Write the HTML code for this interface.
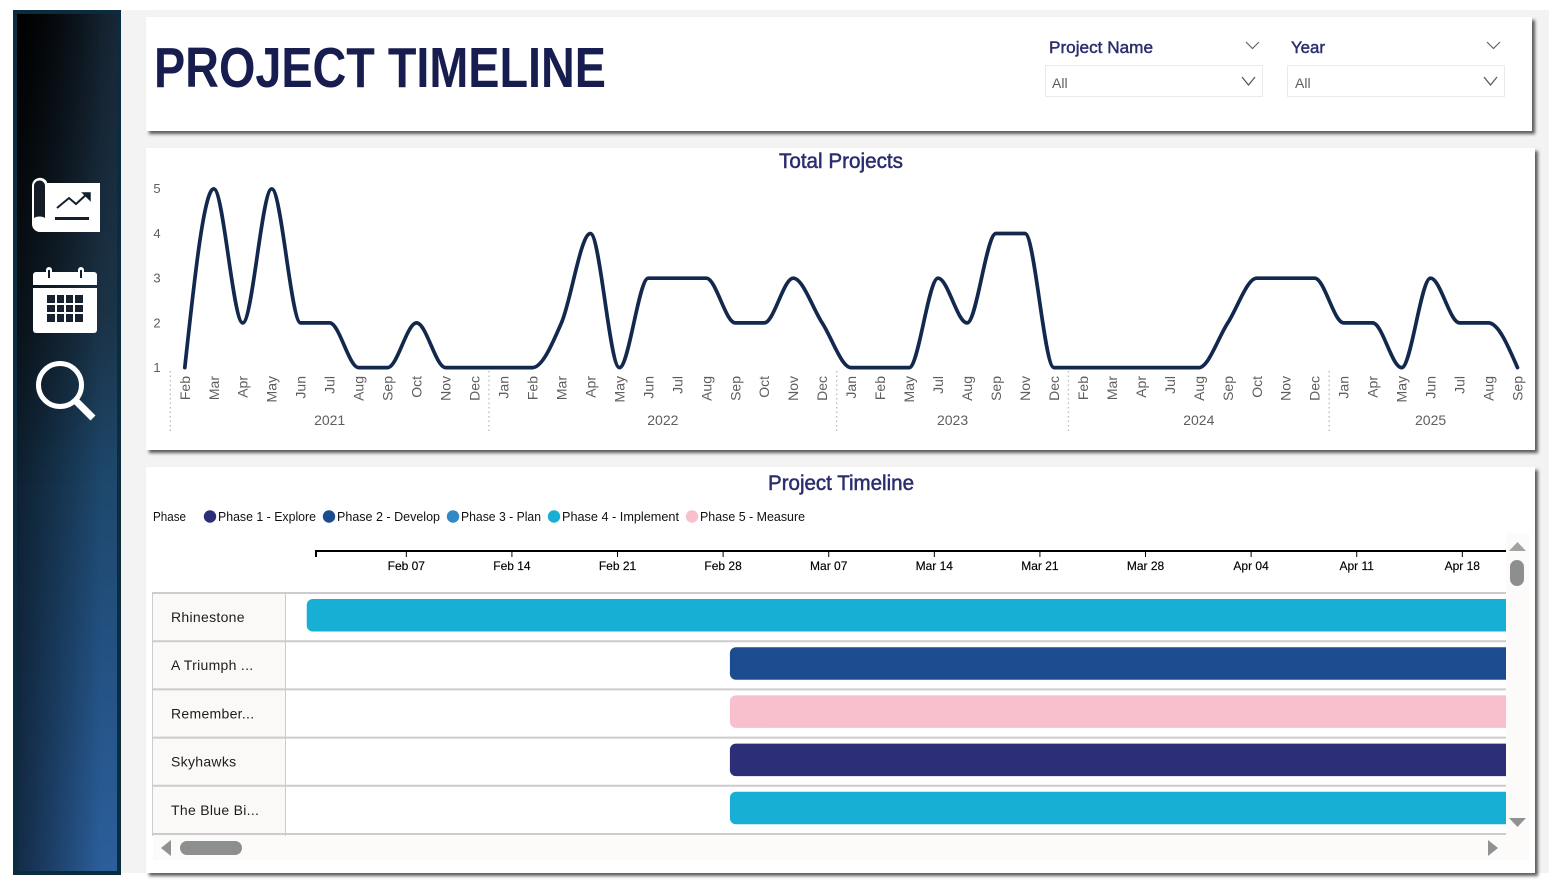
<!DOCTYPE html>
<html lang="en">
<head>
<meta charset="utf-8">
<title>Project Timeline</title>
<style>
html,body{margin:0;padding:0;background:#fff;width:1549px;height:886px;overflow:hidden}
#canvas{position:absolute;left:0;top:0;width:1549px;height:886px;overflow:hidden;font-family:"Liberation Sans",sans-serif}
#bg{position:absolute;left:121px;top:10px;width:1428px;height:863px;background:#f3f3f3}
#sidebar{position:absolute;left:13px;top:10px;width:100px;height:857px;border:4px solid #0b2b3e;
background:linear-gradient(90deg,rgba(0,0,0,.55) 0%,rgba(0,0,0,.3) 40%,rgba(0,0,0,0) 85%),linear-gradient(180deg,#172736 0%,#1c3448 35%,#1d4669 52%,#22507f 72%,#2b5f9c 100%)}
#sidebar-tint{position:absolute;left:0;top:0;width:100px;height:857px;background:linear-gradient(90deg,#000 0%,rgba(0,0,0,.55) 45%,rgba(0,0,0,0) 100%);-webkit-mask-image:linear-gradient(180deg,#000 0%,rgba(0,0,0,.35) 30%,rgba(0,0,0,0) 55%);mask-image:linear-gradient(180deg,#000 0%,rgba(0,0,0,.35) 30%,rgba(0,0,0,0) 55%)}
.panel{position:absolute;background:#fff;box-shadow:3px 3px 3px rgba(40,40,40,.75)}
svg#page{position:absolute;left:0;top:0}
</style>
</head>
<body>
<div id="canvas">
  <div id="bg"></div>
  <div id="sidebar"><div id="sidebar-tint"></div></div>
  <div class="panel" style="left:146px;top:17px;width:1386px;height:114px"></div>
  <div class="panel" style="left:146px;top:148px;width:1389px;height:302px"></div>
  <div class="panel" style="left:146px;top:467px;width:1389px;height:406px"></div>

  <svg id="page" width="1549" height="886" viewBox="0 0 1549 886" xmlns="http://www.w3.org/2000/svg">
    <defs><clipPath id="ganttClip"><rect x="286" y="590" width="1220" height="246"/></clipPath></defs>

    <!-- sidebar icons -->
    <g>
      <path d="M32 185a8 8 0 0 1 15-3v1h53v49H40a8 8 0 0 1-8-8z" fill="#fff"/>
      <path d="M34 218V186a5.500 5.500 0 0 1 11 0v32a7 4 0 0 0-11 0z" fill="#141c26"/>
      <path d="M57 208l12-10 7 6 12-11" fill="none" stroke="#141f2d" stroke-width="2"/>
      <path d="M83 193h7v7z" fill="#141f2d" stroke="#141f2d" stroke-width="1.500"/>
      <rect x="55" y="217" width="34" height="3" fill="#141f2d"/>
    </g>
    <g>
      <path d="M33 275a3 3 0 0 1 3-3h58a3 3 0 0 1 3 3v10H33z" fill="#fff"/>
      <path d="M33 288h64v42a3 3 0 0 1-3 3H36a3 3 0 0 1-3-3z" fill="#fff"/>
      <rect x="46" y="267" width="6" height="11" rx="3" fill="#fff"/>
      <rect x="78" y="267" width="6" height="11" rx="3" fill="#fff"/>
      <rect x="48" y="270" width="2" height="8" fill="#141f2d"/>
      <rect x="80" y="270" width="2" height="8" fill="#141f2d"/>
      <g fill="#18222f" id="calendarGrid">
        <rect x="47" y="295" width="8" height="8"/><rect x="57" y="295" width="7" height="8"/><rect x="66" y="295" width="7" height="8"/><rect x="75" y="295" width="8" height="8"/>
        <rect x="47" y="305" width="8" height="7"/><rect x="57" y="305" width="7" height="7"/><rect x="66" y="305" width="7" height="7"/><rect x="75" y="305" width="8" height="7"/>
        <rect x="47" y="314" width="8" height="8"/><rect x="57" y="314" width="7" height="8"/><rect x="66" y="314" width="7" height="8"/><rect x="75" y="314" width="8" height="8"/>
      </g>
    </g>
    <g>
      <circle cx="60" cy="385" r="21.500" fill="none" stroke="#fff" stroke-width="5"/>
      <path d="M76 401l17 17" stroke="#fff" stroke-width="7" fill="none"/>
    </g>

    <!-- header -->
    <text x="154" y="87" font-family="'Liberation Sans',sans-serif" font-weight="700" font-size="56.500" fill="#181d50" textLength="452" lengthAdjust="spacingAndGlyphs">PROJECT TIMELINE</text>

    <text x="1049" y="53" font-family="'Liberation Sans',sans-serif" font-size="17" fill="#2b2d6e" stroke="#2b2d6e" stroke-width="0.450" textLength="104" lengthAdjust="spacingAndGlyphs">Project Name</text>
    <path d="M1246 42l6.500 6.500 6.500-6.500" fill="none" stroke="#666" stroke-width="1.200"/>
    <rect x="1045.500" y="65.500" width="217" height="31" fill="#fff" stroke="#eaeaea"/>
    <text x="1052" y="88" font-family="'Liberation Sans',sans-serif" font-size="14" fill="#605e5c">All</text>
    <path d="M1242 77l6.500 8 6.500-8" fill="none" stroke="#555" stroke-width="1.200"/>

    <text x="1291" y="53" font-family="'Liberation Sans',sans-serif" font-size="17" fill="#2b2d6e" stroke="#2b2d6e" stroke-width="0.450" textLength="34" lengthAdjust="spacingAndGlyphs">Year</text>
    <path d="M1487 42l6.500 6.500 6.500-6.500" fill="none" stroke="#666" stroke-width="1.200"/>
    <rect x="1287.500" y="65.500" width="217" height="31" fill="#fff" stroke="#eaeaea"/>
    <text x="1295" y="88" font-family="'Liberation Sans',sans-serif" font-size="14" fill="#605e5c">All</text>
    <path d="M1484 77l6.500 8 6.500-8" fill="none" stroke="#555" stroke-width="1.200"/>

    <!-- line chart -->
    <text x="779" y="168" font-family="'Liberation Sans',sans-serif" font-size="21" fill="#2b2d6e" stroke="#2b2d6e" stroke-width="0.500" textLength="124" lengthAdjust="spacingAndGlyphs">Total Projects</text>
    <g id="lineChart"></g>

    <!-- gantt -->
    <text x="768" y="490" font-family="'Liberation Sans',sans-serif" font-size="21" fill="#2b2d6e" stroke="#2b2d6e" stroke-width="0.500" textLength="146" lengthAdjust="spacingAndGlyphs">Project Timeline</text>
    <g id="legend"></g>
    <g id="gantt"></g>

    <!-- scrollbars -->
    <rect x="1506" y="533" width="23" height="327" fill="#fcfbfa"/>
    <rect x="153" y="836" width="1376" height="24" fill="#fcfbfa"/>
    <path d="M1509 551l8.500-9 8.500 9z" fill="#a0a3a2"/>
    <path d="M1509 818l8.500 9 8.500-9z" fill="#8f9291"/>
    <rect x="1510" y="560" width="14" height="26" rx="7" fill="#8c8f8e"/>
    <path d="M171 840v16l-10-8z" fill="#8f9291"/>
    <path d="M1488 840v16l10-8z" fill="#8f9291"/>
    <rect x="180" y="841" width="62" height="14" rx="7" fill="#8c8f8e"/>
  </svg>
</div>

<script>
/* ---------- Total Projects chart data ---------- */
const monthLabels = ["Feb","Mar","Apr","May","Jun","Jul","Aug","Sep","Oct","Nov","Dec",
  "Jan","Feb","Mar","Apr","May","Jun","Jul","Aug","Sep","Oct","Nov","Dec",
  "Jan","Feb","May","Jul","Aug","Sep","Nov","Dec",
  "Feb","Mar","Apr","Jul","Aug","Sep","Oct","Nov","Dec",
  "Jan","Apr","May","Jun","Jul","Aug","Sep"];
const totalProjects = [1,5,2,5,2,2,1,1,2,1,1,
  1,1,2,4,1,3,3,3,2,2,3,2,
  1,1,1,3,2,4,4,1,
  1,1,1,1,1,2,3,3,3,
  2,2,1,3,2,2,1];
const yearLabels = ["2021","2022","2023","2024","2025"];
const yearMonthCounts = [11,12,8,9,7];
const yTickValues = [1,2,3,4,5];

/* ---------- Gantt chart data ---------- */
const phaseNames = ["Phase 1 - Explore","Phase 2 - Develop","Phase 3 - Plan","Phase 4 - Implement","Phase 5 - Measure"];
const projectNames = ["Rhinestone","A Triumph ...","Remember...","Skyhawks","The Blue Bi..."];
const projectPhaseIndex = [3,1,4,0,3];
const projectStartDay = [-0.6,27.45,27.45,27.45,27.45];
const projectEndDay = [120,120,120,120,120];
const dateTickLabels = ["Feb 07","Feb 14","Feb 21","Feb 28","Mar 07","Mar 14","Mar 21","Mar 28","Apr 04","Apr 11","Apr 18"];
const dateTickDays = [6,13,20,27,34,41,48,55,62,69,76];

/* ---------- helpers ---------- */
const NS = "http://www.w3.org/2000/svg";
const FONT = "'Liberation Sans',sans-serif";
function make(parent, tag, attrs, txt){
  const el = document.createElementNS(NS, tag);
  for (const k in attrs) el.setAttribute(k, attrs[k]);
  if (txt !== undefined) el.textContent = txt;
  parent.appendChild(el);
  return el;
}

/* ---------- line chart ---------- */
const lineChart = document.getElementById("lineChart");
const xStep = (1517.5 - 184.8) / (monthLabels.length - 1);
function xScale(i){ return 184.8 + i * xStep; }
function yScale(v){ return 367.6 - (v - 1) * (367.6 - 188.8) / 4; }

yTickValues.forEach(function(v){
  const t = make(lineChart, "text", {x:157, y:yScale(v)+4.4, "text-anchor":"middle", "font-family":FONT, "font-size":13, fill:"#605e5c"}, String(v));
  
  
});

monthLabels.forEach(function(m, i){
  const x = xScale(i);
  const t = make(lineChart, "text", {x:0, y:0, transform:"translate("+(x+5)+",376) rotate(-90)", "text-anchor":"end", "font-family":FONT, "font-size":14, fill:"#605e5c"}, m);
  
  
});

let yearStartIndex = 0;
yearLabels.forEach(function(y, k){
  const left = xScale(yearStartIndex - 0.5);
  const last = yearStartIndex + yearMonthCounts[k] - 1;
  const right = xScale(last + 0.5);
  const sep = make(lineChart, "line", {x1:left, x2:left, y1:371, y2:433, stroke:"#bdbdbd", "stroke-width":1.4, "stroke-dasharray":"1.500 3"});
  
  
  const t = make(lineChart, "text", {x:(left+right)/2, y:425, "text-anchor":"middle", "font-family":FONT, "font-size":14, fill:"#605e5c"}, y);
  
  
  yearStartIndex = last + 1;
});

function monotonePath(pts){
  const n = pts.length;
  const d = [], m = [];
  for (let i = 0; i < n - 1; i++) d.push((pts[i+1][1] - pts[i][1]) / (pts[i+1][0] - pts[i][0]));
  for (let i = 1; i < n - 1; i++){
    const h0 = pts[i][0] - pts[i-1][0], h1 = pts[i+1][0] - pts[i][0];
    const p = (d[i-1]*h1 + d[i]*h0) / (h0 + h1);
    const s0 = d[i-1], s1 = d[i];
    m[i] = ((s0 < 0 ? -1 : 1) + (s1 < 0 ? -1 : 1)) * Math.min(Math.abs(s0), Math.abs(s1), 0.5*Math.abs(p)) || 0;
  }
  m[0] = (3*d[0] - m[1]) / 2;
  m[n-1] = (3*d[n-2] - m[n-2]) / 2;
  let s = "M" + pts[0][0] + " " + pts[0][1];
  for (let i = 0; i < n - 1; i++){
    const h = (pts[i+1][0] - pts[i][0]) / 3;
    s += "C" + (pts[i][0]+h) + " " + (pts[i][1]+h*m[i]) + " " + (pts[i+1][0]-h) + " " + (pts[i+1][1]-h*m[i+1]) + " " + pts[i+1][0] + " " + pts[i+1][1];
  }
  return s;
}
const linePoints = totalProjects.map(function(v, i){ return [xScale(i), yScale(v)]; });
const seriesLine = make(lineChart, "path", {d:monotonePath(linePoints), fill:"none", stroke:"#12284c", "stroke-width":3.7, "stroke-linecap":"round", "stroke-linejoin":"round"});



/* ---------- legend ---------- */
const phaseColors = ["#2d2e78","#1c4b8f","#3188c4","#17b0d4","#f8bfcd"];
const legend = document.getElementById("legend");
const legendTitle = make(legend, "text", {x:153, y:521, "font-family":FONT, "font-size":12.5, fill:"#111", textLength:33, lengthAdjust:"spacingAndGlyphs"}, "Phase");


const legendTextWidths = [98,103,80,117,105];
let legendX = 204;
phaseNames.forEach(function(name, i){
  const dot = make(legend, "circle", {cx:legendX+6, cy:516.5, r:6.2, fill:phaseColors[i]});
  
  
  const label = make(legend, "text", {x:legendX+14, y:521, "font-family":FONT, "font-size":12.5, fill:"#111", textLength:legendTextWidths[i], lengthAdjust:"spacingAndGlyphs"}, name);
  
  
  legendX += 14 + legendTextWidths[i] + 7;
});

/* ---------- gantt ---------- */
const gantt = document.getElementById("gantt");
const dayWidth = 105.6 / 7;
function dayScale(d){ return 315.8 + d * dayWidth; }
const rowTop = 593, rowHeight = 48.2;
function rowY(i){ return rowTop + i * rowHeight; }

const axisLine = make(gantt, "line", {x1:315, x2:1506, y1:551, y2:551, stroke:"#000", "stroke-width":2});


const axisStart = make(gantt, "line", {x1:316, x2:316, y1:550, y2:557, stroke:"#000", "stroke-width":2});



dateTickLabels.forEach(function(lbl, i){
  const x = dayScale(dateTickDays[i]);
  const tick = make(gantt, "line", {x1:x, x2:x, y1:551, y2:557, stroke:"#000", "stroke-width":1});
  
  
  const t = make(gantt, "text", {x:x, y:570, "text-anchor":"middle", "font-family":FONT, "font-size":12, fill:"#000", stroke:"#000", "stroke-width":0.15}, lbl);
  
  
});

const labelCol = make(gantt, "rect", {x:153, y:593, width:132, height:243, fill:"#faf9f7"});



const barLayer = make(gantt, "g", {"clip-path":"url(#ganttClip)"});



projectNames.forEach(function(name, i){
  const y = rowY(i);
  const x0 = dayScale(projectStartDay[i]);
  const x1 = dayScale(projectEndDay[i]);
  const bar = make(barLayer, "rect", {x:x0, y:y+6, width:x1-x0, height:32.5, rx:6, fill:phaseColors[projectPhaseIndex[i]]});
  
  
  const t = make(gantt, "text", {x:171, y:y+29, "font-family":FONT, "font-size":14, "letter-spacing":0.3, fill:"#1d1d1d"}, name);
  
  
});
for (let i = 0; i <= projectNames.length; i++){
  const g = make(gantt, "line", {x1:152, x2:1506, y1:rowY(i), y2:rowY(i), stroke:"#cccccc", "stroke-width":2});
  
  
}
["152.500","285.500"].forEach(function(x){
  const v = make(gantt, "line", {x1:x, x2:x, y1:593, y2:836, stroke:"#cccccc", "stroke-width":1});
  
  
});
</script>
</body>
</html>
